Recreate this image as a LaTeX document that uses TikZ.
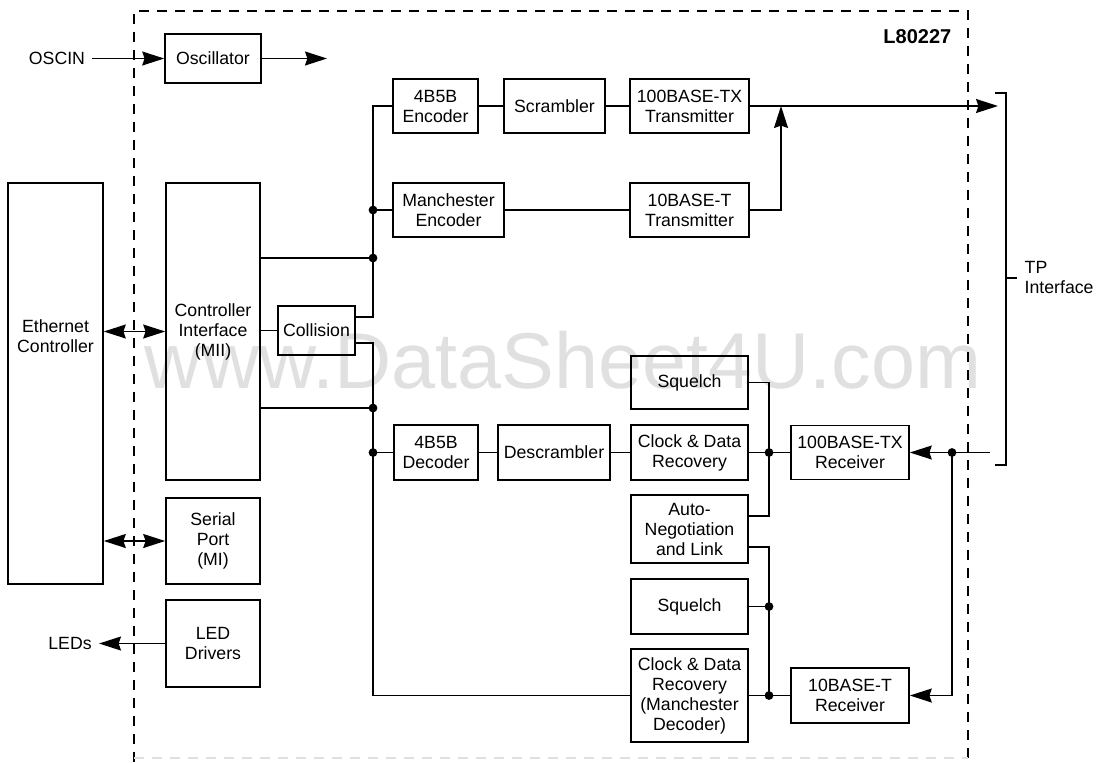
\documentclass[tikz,border=0pt]{standalone}
\usepackage{fontspec}
\setmainfont{Liberation Sans}
\usetikzlibrary{arrows.meta}

\begin{document}
\begin{tikzpicture}[x=0.5pt, y=-0.5pt, line width=0.7pt,
  font=\fontsize{8.85}{10}\selectfont,
  >={Stealth[length=11pt,width=7pt,inset=1.2pt]},
  blk/.style={draw, line width=0.8pt, align=center, inner sep=0pt},
  rx/.style={blk, minimum width=58.5pt}]
  \useasboundingbox (0,0) rectangle (1106,762);
  % watermark, behind everything
  \node[text=black!12, font=\fontsize{39.6}{40}\selectfont, anchor=base] (wm) at (563,388) {www.DataSheet4U.com};
  % chip outline
  \draw[dash pattern=on 5pt off 4pt] (134,762) -- (134,11) -- (968,11) -- (968,762);
  \draw[black!12, dash pattern=on 5pt off 4pt] (134,758) -- (968,758);
  \node[font={\fontsize{10}{12}\selectfont\bfseries}, anchor=east, inner sep=0pt] (chip) at (952,37) {L80227};

  % outside blocks and signals
  \node[blk, minimum width=47.5pt, minimum height=200.5pt] (eth) at (55.5,383.5) {};
  \node[align=center, inner sep=0pt] (ethtxt) at (55.5,336) {Ethernet\\Controller};
  \node (oscin) at (57,58.5) {OSCIN};
  \node (leds) at (70,643.5) {LEDs};

  % left column
  \node[blk, minimum width=48pt, minimum height=24.5pt] (osc) at (213,58.5) {Oscillator};
  \node[blk, minimum width=47pt, minimum height=148.5pt] (mii) at (213,331.5) {Controller\\Interface\\(MII)};
  \node[blk, minimum width=38.5pt, minimum height=24.5pt] (col) at (316.5,330.5) {Collision};
  \node[blk, minimum width=47pt, minimum height=43pt] (ser) at (213,541) {Serial\\Port\\(MI)};
  \node[blk, minimum width=47pt, minimum height=43.5pt] (led) at (213,643.5) {LED\\Drivers};

  % transmit path
  \node[blk, minimum width=42.5pt, minimum height=27pt] (enc) at (435.5,106) {4B5B\\Encoder};
  \node[blk, minimum width=50.5pt, minimum height=27pt] (scr) at (554.5,106) {Scrambler};
  \node[blk, minimum width=59.5pt, minimum height=27pt] (txh) at (689.5,106) {100BASE-TX\\Transmitter};
  \node[blk, minimum width=55.5pt, minimum height=27pt] (men) at (448.5,210) {Manchester\\Encoder};
  \node[blk, minimum width=59.5pt, minimum height=27pt] (txt) at (689.5,210) {10BASE-T\\Transmitter};

  % receive path
  \node[blk, minimum width=42pt, minimum height=27.5pt] (dec) at (436,452.5) {4B5B\\Decoder};
  \node[blk, minimum width=56pt, minimum height=27.5pt] (dsc) at (554,452.5) {Descrambler};
  \node[rx, minimum height=26.5pt] (sq1) at (689.5,382.5) {Squelch};
  \node[rx, minimum height=27.5pt] (cdr) at (689.5,452.5) {Clock \& Data\\Recovery};
  \node[rx, minimum height=34pt] (ang) at (689.5,529) {Auto-\\Negotiation\\and Link};
  \node[rx, minimum height=27.5pt] (sq2) at (689.5,606.5) {Squelch};
  \node[rx, minimum height=46.5pt] (cdm) at (689.5,695.5) {Clock \& Data\\Recovery\\(Manchester\\Decoder)};
  \node[blk, minimum width=59pt, minimum height=27pt] (rxh) at (850,452.5) {100BASE-TX\\Receiver};
  \node[blk, minimum width=59pt, minimum height=27.5pt] (rxt) at (850,695.5) {10BASE-T\\Receiver};
  \node[anchor=west, align=left, inner sep=0pt] (tpi) at (1024,277) {TP\\Interface};

  % junction points
  \coordinate (oscout) at (327,58.5);
  \coordinate (jcu) at (373,317);
  \coordinate (jmen) at (373,210);
  \coordinate (jmii1) at (373,258);
  \coordinate (jmii2) at (373,408);
  \coordinate (jdec) at (373,452.5);
  \coordinate (jcd) at (373,695.5);
  \coordinate (tjoin) at (781,106);
  \coordinate (tpout) at (998,106);
  \coordinate (jru) at (769,516);
  \coordinate (jcdr) at (769,452.5);
  \coordinate (jrd) at (769,695.5);
  \coordinate (jsq2) at (769,606.5);
  \coordinate (tpin) at (990,452.5);
  \coordinate (jtp) at (952,452.5);

  % clock and host side
  \draw[->] (oscin) -- (osc);
  \draw[->] (osc) -- (oscout);
  \draw[<->] (eth.east |- mii.west) -- (mii.west);
  \draw[<->] (eth.east |- ser.west) -- (ser.west);
  \draw[->] (led) -- (leds);
  \draw (mii.east |- col.west) -- (col.west);

  % transmit wiring
  \draw (enc.west) -| (jcu) -- ([yshift=6.75pt]col.east);
  \draw (men.west) -- (jmen);
  \draw ([yshift=36.75pt]mii.east) -- (jmii1);
  \draw (enc) -- (scr);
  \draw (scr) -- (txh);
  \draw (men) -- (txt);
  \draw[->] (txh) -- (tpout);
  \draw[->] (txt.east) -| (tjoin);

  % receive wiring
  \draw ([yshift=-6.25pt]col.east) -| (jcd) -- (cdm.west);
  \draw ([yshift=-38.25pt]mii.east) -- (jmii2);
  \draw (dec.west) -- (jdec);
  \draw (dec) -- (dsc);
  \draw (dsc) -- (cdr);
  \draw (cdr) -- (rxh);
  \draw (sq1.east) -| (jru) -- ([yshift=6.5pt]ang.east);
  \draw ([yshift=-9pt]ang.east) -| (jrd) -- (rxt);
  \draw (cdm.east) -- (jrd);
  \draw (sq2.east) -- (jsq2);
  \draw[->] (tpin) -- (rxh);
  \draw[->] (jtp) |- (rxt);

  % TP interface bracket
  \draw (995,93) -- (1006,93) -- (1006,465) -- (995,465);
  \draw (1006,278) -- (1017,278);

  \foreach \j in {jmen,jmii1,jmii2,jdec,jcdr,jsq2,jrd,jtp}
    \fill (\j) circle[radius=2.2pt];
\end{tikzpicture}
\end{document}
